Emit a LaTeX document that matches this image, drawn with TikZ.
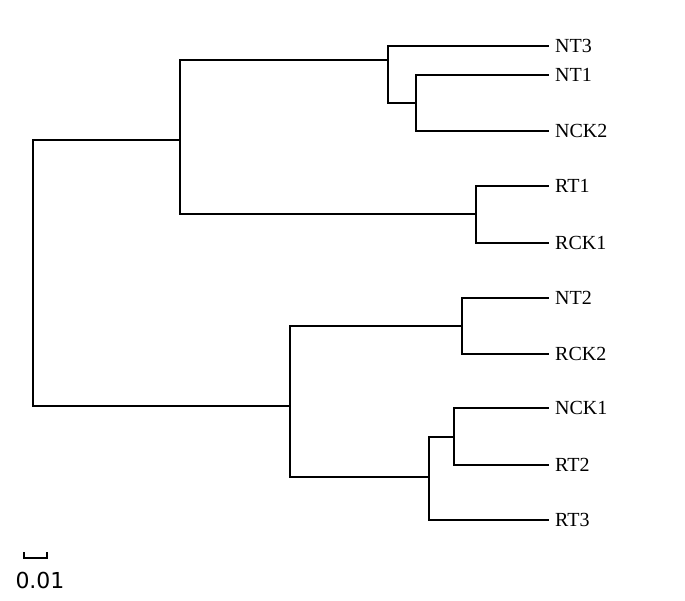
\documentclass[tikz,border=0pt]{standalone}
\usepackage{fontspec}
\setmainfont{Liberation Serif}
\newfontfamily\scalefont{DejaVu Sans}
\begin{document}
\begin{tikzpicture}[x=1pt,y=-1pt,
  br/.style={line width=1.6pt,line cap=rect},
  leaf/.style={anchor=west,inner sep=0pt,font=\fontsize{20}{20}\selectfont}]
\useasboundingbox (0,0) rectangle (685,600);
\foreach \n/\t/\y in {a/NT3/46,b/NT1/75,c/NCK2/131,d/RT1/186,e/RCK1/243,f/NT2/298,g/RCK2/354,h/NCK1/408,i/RT2/465,j/RT3/520}{
  \node[leaf] (\n) at (555,\y) {\t};
  \coordinate (L\n) at (548,\y);
}
\coordinate (Nbc) at (416,103);
\coordinate (Nabc) at (388,60);
\coordinate (Nde) at (476,214);
\coordinate (Nup) at (180,140);
\coordinate (Nfg) at (462,326);
\coordinate (Nhi) at (454,437);
\coordinate (Nhij) at (429,477);
\coordinate (Nlo) at (290,406);
\coordinate (Nroot) at (33,273);
\foreach \p/\u/\v in {Nbc/Lb/Lc, Nabc/La/Nbc, Nde/Ld/Le, Nup/Nabc/Nde, Nfg/Lf/Lg, Nhi/Lh/Li, Nhij/Nhi/Lj, Nlo/Nfg/Nhij, Nroot/Nup/Nlo}{
  \draw[br] (\u) -| (\p) |- (\v);
}
\coordinate (s1) at (24,558);
\coordinate (s2) at (47,558);
\draw[br,line cap=butt] ([yshift=6]s1) -- (s1) -- (s2) -- ([yshift=6]s2);
\node[font=\scalefont\fontsize{22}{22}\selectfont,inner sep=0pt] (sl) at (40,580) {0.01};
\end{tikzpicture}
\end{document}
